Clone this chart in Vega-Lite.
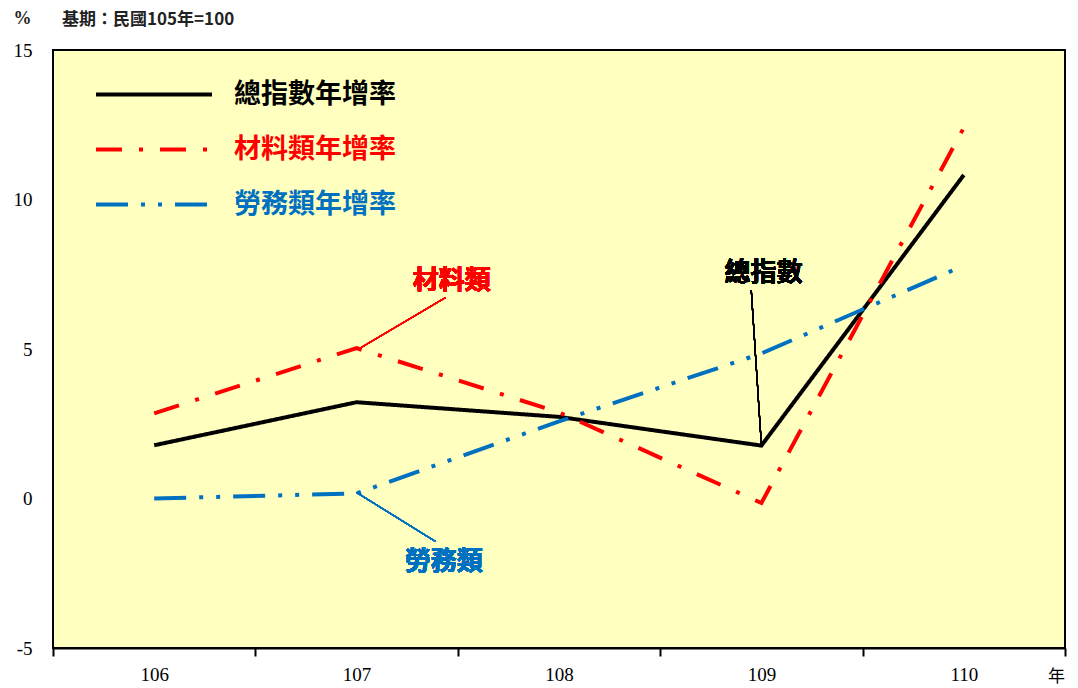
{
  "$schema": "https://vega.github.io/schema/vega-lite/v6.json",
  "width": 1012,
  "height": 598,
  "autosize": {"type": "none"},
  "padding": {"left": 53, "top": 50, "right": 13, "bottom": 40},
  "background": "white",
  "config": {
    "view": {"fill": "#FFFFC0", "stroke": "black", "strokeWidth": 2},
    "font": "Liberation Serif"
  },
  "title": {
    "text": "基期：民國105年=100",
    "anchor": "start",
    "frame": "group",
    "dx": 9,
    "offset": -20,
    "font": "Noto Sans CJK TC",
    "fontSize": 17,
    "fontWeight": "bold",
    "color": "#222222"
  },
  "data": {
    "values": [
      {"year": 106, "series": "總指數年增率", "value": 1.78},
      {"year": 107, "series": "總指數年增率", "value": 3.22},
      {"year": 108, "series": "總指數年增率", "value": 2.73},
      {"year": 109, "series": "總指數年增率", "value": 1.77},
      {"year": 110, "series": "總指數年增率", "value": 10.82},
      {"year": 106, "series": "材料類年增率", "value": 2.85},
      {"year": 107, "series": "材料類年增率", "value": 5.03},
      {"year": 108, "series": "材料類年增率", "value": 2.88},
      {"year": 109, "series": "材料類年增率", "value": -0.15},
      {"year": 110, "series": "材料類年增率", "value": 12.4},
      {"year": 106, "series": "勞務類年增率", "value": 0.0},
      {"year": 107, "series": "勞務類年增率", "value": 0.17},
      {"year": 108, "series": "勞務類年增率", "value": 2.58},
      {"year": 109, "series": "勞務類年增率", "value": 4.85},
      {"year": 110, "series": "勞務類年增率", "value": 7.79}
    ]
  },
  "layer": [
    {
      "mark": {"type": "line", "strokeWidth": 4, "strokeCap": "butt"},
      "encoding": {
        "x": {
          "field": "year",
          "type": "quantitative",
          "scale": {"domain": [105.5, 110.5], "nice": false, "zero": false},
          "axis": {
            "values": [105.5, 106, 106.5, 107, 107.5, 108, 108.5, 109, 109.5, 110, 110.5],
            "labelExpr": "datum.value % 1 == 0 ? format(datum.value, 'd') : ''",
            "tickOpacity": {"condition": {"test": "datum.value % 1 == 0", "value": 0}, "value": 1},
            "grid": false,
            "tickSize": 8,
            "tickColor": "black",
            "tickWidth": 2,
            "domainColor": "black",
            "domainWidth": 2,
            "labelFontSize": 19,
            "labelPadding": 9,
            "labelColor": "black",
            "labelFont": "Liberation Serif",
            "title": "年",
            "titleFont": "Noto Sans CJK TC",
            "titleFontSize": 17,
            "titleFontWeight": "normal",
            "titleColor": "black",
            "titleX": 1003,
            "titleY": 28,
            "titleAlign": "center",
            "titleBaseline": "middle"
          }
        },
        "y": {
          "field": "value",
          "type": "quantitative",
          "scale": {"domain": [-5, 15], "nice": false},
          "axis": {
            "values": [-5, 0, 5, 10, 15],
            "labelExpr": "datum.value < 0 ? '-' + abs(datum.value) : '' + datum.value",
            "ticks": false,
            "grid": false,
            "domain": false,
            "labelPadding": 21,
            "labelFontSize": 19,
            "labelColor": "black",
            "labelFont": "Liberation Serif",
            "title": "%",
            "titleAngle": 0,
            "titleFont": "Liberation Serif",
            "titleFontSize": 18,
            "titleFontWeight": "bold",
            "titleColor": "#222222",
            "titleX": -31,
            "titleY": -32,
            "titleAlign": "center",
            "titleBaseline": "middle"
          }
        },
        "color": {
          "field": "series",
          "type": "nominal",
          "scale": {
            "domain": ["總指數年增率", "材料類年增率", "勞務類年增率"],
            "range": ["#000000", "#FF0000", "#0070C0"]
          },
          "legend": {
            "orient": "none",
            "legendX": 41,
            "legendY": 18,
            "title": null,
            "symbolType": "stroke",
            "symbolSize": 13456,
            "symbolStrokeWidth": 4,
            "labelFontSize": 27,
            "labelFont": "Noto Sans CJK TC",
            "labelFontWeight": "bold",
            "labelOffset": 20,
            "labelLimit": 400,
            "clipHeight": 53,
            "rowPadding": 2,
            "padding": 0,
            "encode": {
              "labels": {
                "update": {
                  "fill": {"signal": "datum.value === '材料類年增率' ? '#FF0000' : datum.value === '勞務類年增率' ? '#0070C0' : '#000000'"}
                }
              }
            }
          }
        },
        "strokeDash": {
          "field": "series",
          "type": "nominal",
          "scale": {
            "domain": ["總指數年增率", "材料類年增率", "勞務類年增率"],
            "range": [[1, 0], [26, 17, 4, 17], [32, 13, 4, 13, 4, 13]]
          },
          "legend": {
            "orient": "none",
            "legendX": 41,
            "legendY": 18,
            "title": null,
            "symbolType": "stroke",
            "symbolSize": 13456,
            "symbolStrokeWidth": 4,
            "labelFontSize": 27,
            "labelFont": "Noto Sans CJK TC",
            "labelFontWeight": "bold",
            "labelOffset": 20,
            "labelLimit": 400,
            "clipHeight": 53,
            "rowPadding": 2,
            "padding": 0,
            "encode": {
              "labels": {
                "update": {
                  "fill": {"signal": "datum.value === '材料類年增率' ? '#FF0000' : datum.value === '勞務類年增率' ? '#0070C0' : '#000000'"}
                }
              }
            }
          }
        }
      }
    },
    {
      "mark": {"type": "rule", "color": "#FF0000", "strokeWidth": 1.2},
      "encoding": {
        "x": {"datum": 107.01},
        "y": {"datum": 5.0},
        "x2": {"datum": 107.44},
        "y2": {"datum": 6.72}
      }
    },
    {
      "mark": {"type": "rule", "color": "#0070C0", "strokeWidth": 1.2},
      "encoding": {
        "x": {"datum": 107.0},
        "y": {"datum": 0.2},
        "x2": {"datum": 107.39},
        "y2": {"datum": -1.44}
      }
    },
    {
      "mark": {"type": "rule", "color": "#000000", "strokeWidth": 1.2},
      "encoding": {
        "x": {"datum": 108.95},
        "y": {"datum": 6.96},
        "x2": {"datum": 109.0},
        "y2": {"datum": 1.77}
      }
    },
    {
      "mark": {"type": "text", "color": "#FF0000", "font": "Noto Sans CJK TC", "fontWeight": "bold", "fontSize": 26, "align": "center", "baseline": "middle"},
      "encoding": {
        "x": {"datum": 107.47},
        "y": {"datum": 7.26},
        "text": {"value": "材料類"}
      }
    },
    {
      "mark": {"type": "text", "color": "#0070C0", "font": "Noto Sans CJK TC", "fontWeight": "bold", "fontSize": 26, "align": "center", "baseline": "middle"},
      "encoding": {
        "x": {"datum": 107.43},
        "y": {"datum": -2.11},
        "text": {"value": "勞務類"}
      }
    },
    {
      "mark": {"type": "text", "color": "#000000", "font": "Noto Sans CJK TC", "fontWeight": "bold", "fontSize": 26, "align": "center", "baseline": "middle"},
      "encoding": {
        "x": {"datum": 109.01},
        "y": {"datum": 7.53},
        "text": {"value": "總指數"}
      }
    }
  ]
}
